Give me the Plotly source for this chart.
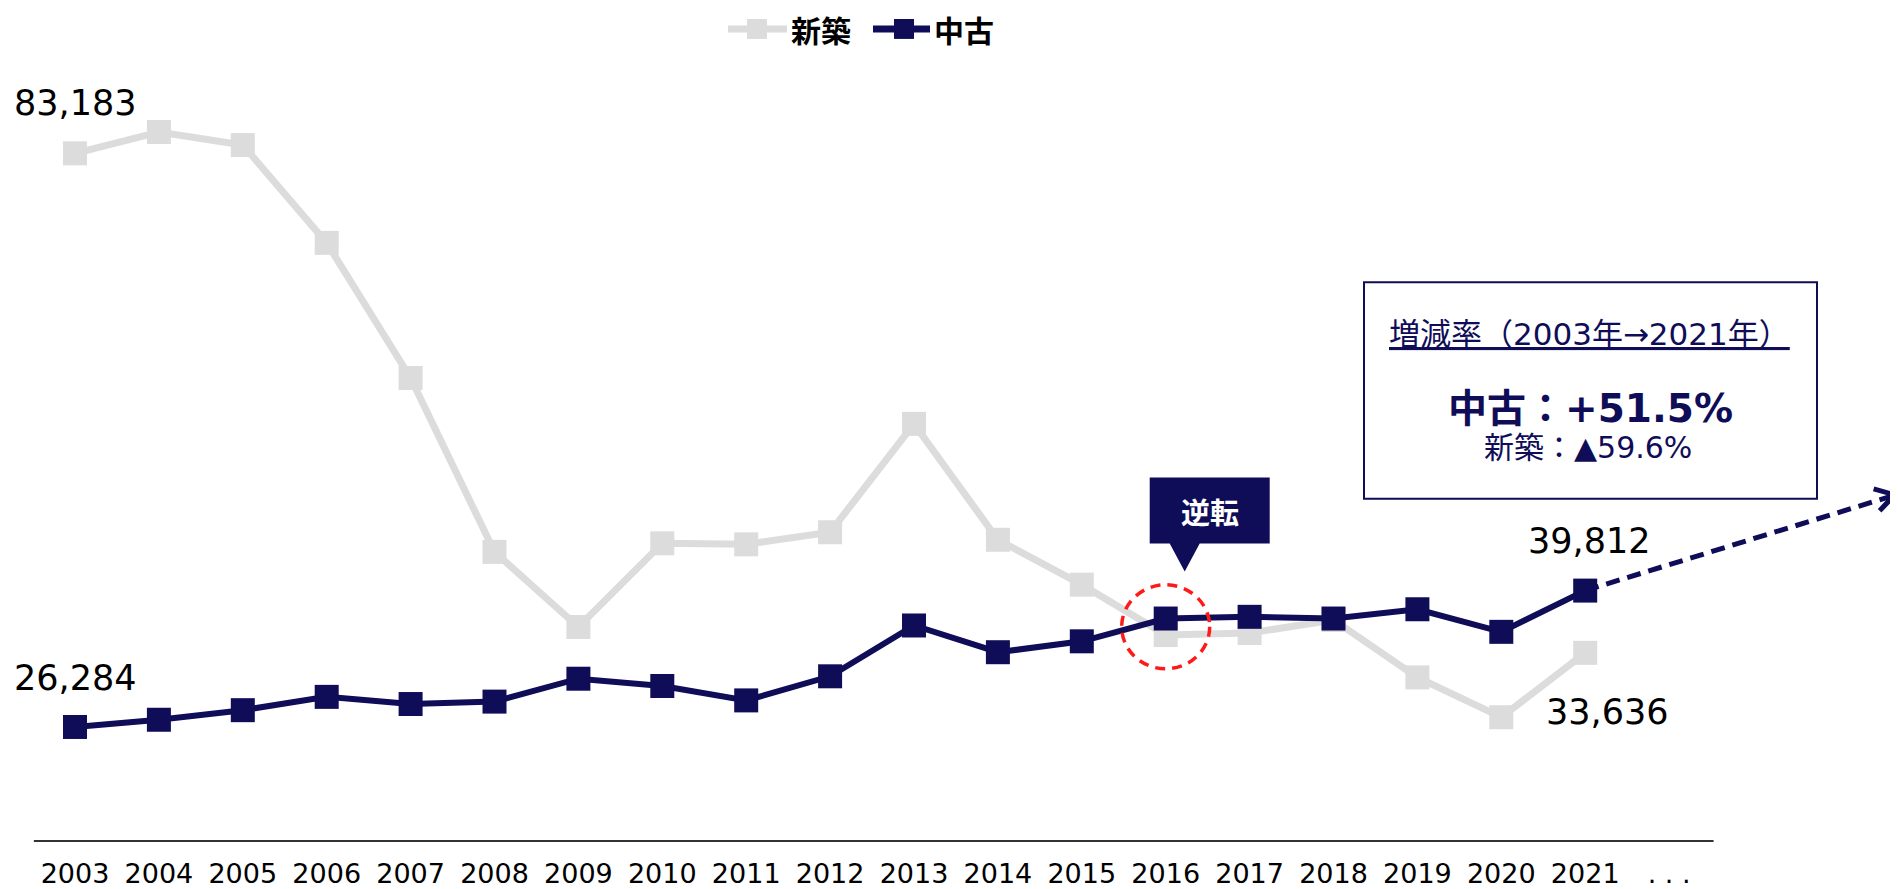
import plotly.graph_objects as go

# ---- data ----
years = ["2003", "2004", "2005", "2006", "2007", "2008", "2009", "2010", "2011", "2012",
         "2013", "2014", "2015", "2016", "2017", "2018", "2019", "2020", "2021"]
tick_labels = years + [". . ."]
shinchiku = [83183, 85300, 84000, 74300, 60900, 43650, 36200, 44500, 44400, 45600,
             56350, 44850, 40400, 35400, 35600, 36900, 31200, 27250, 33636]
chuko = [26284, 27000, 27950, 29270, 28560, 28800, 31070, 30350, 28920, 31310,
         36350, 33700, 34780, 37040, 37210, 37040, 37960, 35720, 39812]
name_new = "新築"
name_used = "中古"
box_title = "増減率（2003年→2021年）"
box_main = "中古：+51.5%"
box_sub = "新築：▲59.6%"
callout_text = "逆転"

NAVY = "#100d58"
GRAY = "#dcdcdc"
LATIN = "DejaVu Sans, Noto Sans CJK JP, sans-serif"
CJK = "Noto Sans CJK JP, sans-serif"

# figure sits inside an 8px page margin: helpers map window pixels to paper coords
FW, FH, MB = 1890, 881, 46
PH = FH - MB


def px(x):
    return (x - 8) / FW


def py(y):
    return 1 - (y - 8) / PH


xi = list(range(len(years)))
tick_x = list(range(len(tick_labels)))

fig = go.Figure()
fig.add_trace(go.Scatter(x=xi, y=shinchiku, name=name_new, mode="lines+markers",
                         line=dict(color=GRAY, width=7),
                         marker=dict(symbol="square", size=24, color=GRAY)))
fig.add_trace(go.Scatter(x=xi, y=chuko, name=name_used, mode="lines+markers",
                         line=dict(color=NAVY, width=6),
                         marker=dict(symbol="square", size=24, color=NAVY)))

last = len(years) - 1
i2016 = years.index("2016")

LEG_Y = 29
annotations = [
    dict(x=0, y=shinchiku[0], text=f"{shinchiku[0]:,}", showarrow=False, yshift=50,
         font=dict(family=LATIN, size=35, color="#000")),
    dict(x=0, y=chuko[0], text=f"{chuko[0]:,}", showarrow=False, yshift=49,
         font=dict(family=LATIN, size=35, color="#000")),
    dict(x=last, y=chuko[-1], text=f"{chuko[-1]:,}", showarrow=False, yshift=50, xshift=4,
         font=dict(family=LATIN, size=35, color="#000")),
    dict(x=last, y=shinchiku[-1], text=f"{shinchiku[-1]:,}", showarrow=False, yshift=-59, xshift=22,
         font=dict(family=LATIN, size=35, color="#000")),
    dict(x=i2016, y=chuko[i2016], text=f"<b>{callout_text}</b>", showarrow=False,
         xshift=44, yshift=108, font=dict(family=CJK, size=29, color="white")),
    # info box texts
    dict(xref="paper", yref="paper", x=px(1387), y=py(335), xanchor="left", yanchor="middle",
         text=box_title, showarrow=False,
         font=dict(family=LATIN, size=31, color=NAVY, lineposition="under")),
    dict(xref="paper", yref="paper", x=px(1590), y=py(409), xanchor="center", yanchor="middle",
         text=f"<b>{box_main}</b>", showarrow=False,
         font=dict(family=LATIN, size=39, color=NAVY)),
    dict(xref="paper", yref="paper", x=px(1588), y=py(449), xanchor="center", yanchor="middle",
         text=box_sub, showarrow=False,
         font=dict(family=LATIN, size=30, color=NAVY)),
    # legend texts
    dict(xref="paper", yref="paper", x=px(789), y=py(LEG_Y), xanchor="left", yanchor="middle",
         text=f"<b>{name_new}</b>", showarrow=False,
         font=dict(family=CJK, size=30, color="#000")),
    dict(xref="paper", yref="paper", x=px(932), y=py(LEG_Y), xanchor="left", yanchor="middle",
         text=f"<b>{name_used}</b>", showarrow=False,
         font=dict(family=CJK, size=30, color="#000")),
]

arrow_end_x = 21.70
arrow_end_y = 49310
shapes = [
    # x-axis baseline
    dict(type="line", xref="x", yref="paper", x0=-0.49, x1=19.53, y0=0, y1=0,
         line=dict(color="#333333", width=2)),
    # dashed trend arrow
    dict(type="line", xref="x", yref="y", x0=last, y0=chuko[-1], x1=arrow_end_x, y1=arrow_end_y,
         line=dict(color=NAVY, width=5, dash="14px,8px"), layer="below"),
    dict(type="path", xref="x", yref="y", xsizemode="pixel", ysizemode="pixel",
         xanchor=arrow_end_x, yanchor=arrow_end_y,
         path="M -22,6 L -1,0 L -16,-16",
         line=dict(color=NAVY, width=5)),
    # red dashed circle
    dict(type="circle", xref="x", yref="y", xsizemode="pixel", ysizemode="pixel",
         xanchor=i2016, yanchor=(chuko[i2016] + shinchiku[i2016]) / 2,
         x0=-44, x1=44, y0=-42, y1=42,
         line=dict(color="#ff1a1a", width=3.5, dash="10px,7px")),
    # callout box with pointer
    dict(type="path", xref="x", yref="y", xsizemode="pixel", ysizemode="pixel",
         xanchor=i2016, yanchor=chuko[i2016],
         path="M -16,75 L 4,75 L 19,47 L 34,75 L 104,75 L 104,141 L -16,141 Z",
         fillcolor=NAVY, line=dict(color=NAVY, width=0)),
    # info box
    dict(type="rect", xref="paper", yref="paper",
         x0=px(1364), x1=px(1817), y0=py(500), y1=py(283),
         line=dict(color=NAVY, width=2), fillcolor="white", layer="below"),
    # legend symbols
    dict(type="line", xref="paper", yref="paper", x0=px(728), x1=px(787), y0=py(LEG_Y), y1=py(LEG_Y),
         line=dict(color=GRAY, width=7)),
    dict(type="rect", xref="paper", yref="paper", x0=px(747), x1=px(767),
         y0=py(LEG_Y + 10), y1=py(LEG_Y - 10), fillcolor=GRAY, line=dict(width=0)),
    dict(type="line", xref="paper", yref="paper", x0=px(873), x1=px(930), y0=py(LEG_Y), y1=py(LEG_Y),
         line=dict(color=NAVY, width=7)),
    dict(type="rect", xref="paper", yref="paper", x0=px(894), x1=px(914),
         y0=py(LEG_Y + 10), y1=py(LEG_Y - 10), fillcolor=NAVY, line=dict(width=0)),
]

x_px0 = 75 - 8          # window x of first category minus page margin
step = 83.9
fig.update_layout(
    width=FW, height=FH,
    margin=dict(l=0, r=0, t=0, b=MB),
    plot_bgcolor="white", paper_bgcolor="white",
    showlegend=False,
    xaxis=dict(range=[-x_px0 / step, (FW - x_px0) / step], tickmode="array",
               tickvals=tick_x, ticktext=tick_labels,
               showgrid=False, zeroline=False, showline=False, ticks="",
               ticklabelstandoff=14,
               tickfont=dict(family=LATIN, size=27, color="#000")),
    yaxis=dict(range=[14974, 97598], visible=False, showgrid=False, zeroline=False),
    annotations=annotations,
    shapes=shapes,
)

fig.write_html("out.html")
